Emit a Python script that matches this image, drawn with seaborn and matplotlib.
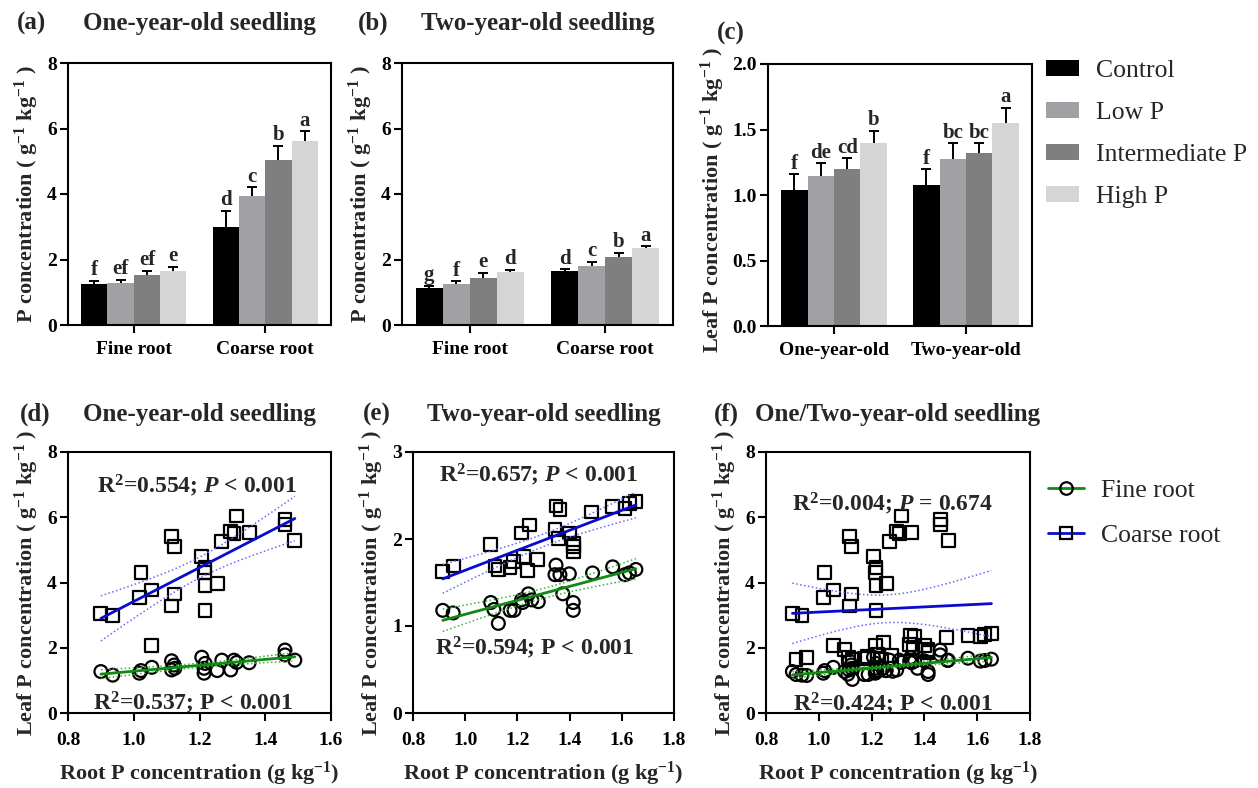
import numpy as np
import pandas as pd
import matplotlib
matplotlib.use("Agg")
import matplotlib.pyplot as plt
import seaborn as sns
from matplotlib.lines import Line2D
from matplotlib.patches import Patch
from matplotlib.ticker import FormatStrFormatter

# ---------------- data ----------------
treatments = ["Control", "Low P", "Intermediate P", "High P"]
bar_colors = ["#000000", "#a0a0a5", "#7f7f7f", "#d5d5d5"]

root_cats = ["Fine root", "Coarse root"]
age_cats = ["One-year-old", "Two-year-old"]

# (a) one-year-old seedling root P
a_fine_mean = [1.24, 1.29, 1.52, 1.65]
a_fine_top = [1.35, 1.38, 1.65, 1.78]
a_coarse_mean = [2.98, 3.95, 5.05, 5.63]
a_coarse_top = [3.49, 4.20, 5.48, 5.91]
a_fine_letters = ["f", "ef", "ef", "e"]
a_coarse_letters = ["d", "c", "b", "a"]

# (b) two-year-old seedling root P
b_fine_mean = [1.12, 1.24, 1.43, 1.61]
b_fine_top = [1.20, 1.33, 1.60, 1.68]
b_coarse_mean = [1.65, 1.80, 2.09, 2.34]
b_coarse_top = [1.70, 1.92, 2.21, 2.40]
b_fine_letters = ["g", "f", "e", "d"]
b_coarse_letters = ["d", "c", "b", "a"]

# (c) leaf P
c_one_mean = [1.037, 1.144, 1.202, 1.394]
c_one_top = [1.157, 1.241, 1.279, 1.488]
c_two_mean = [1.078, 1.276, 1.320, 1.552]
c_two_top = [1.195, 1.394, 1.394, 1.666]
c_one_letters = ["f", "de", "cd", "b"]
c_two_letters = ["f", "bc", "bc", "a"]

# (d) one-year-old scatter
d_fine_x = [0.90, 0.936, 1.017, 1.022, 1.055, 1.115, 1.123, 1.125, 1.115, 1.207, 1.217,
            1.214, 1.214, 1.254, 1.268, 1.295, 1.305, 1.313, 1.351, 1.460, 1.460, 1.490]
d_fine_y = [1.27, 1.16, 1.22, 1.30, 1.40, 1.60, 1.47, 1.37, 1.32, 1.71, 1.52,
            1.37, 1.22, 1.30, 1.62, 1.32, 1.62, 1.55, 1.54, 1.93, 1.78, 1.62]
d_coarse_x = [0.90, 0.936, 1.017, 1.022, 1.055, 1.055, 1.115, 1.115, 1.125, 1.125, 1.207, 1.214,
              1.217, 1.217, 1.217, 1.255, 1.268, 1.295, 1.305, 1.313, 1.351, 1.460, 1.460, 1.490]
d_coarse_y = [3.06, 3.00, 3.55, 4.30, 3.77, 2.08, 5.40, 3.28, 5.10, 3.65, 4.79, 4.30,
              4.45, 3.90, 3.13, 3.97, 5.25, 5.56, 5.51, 6.04, 5.53, 5.92, 5.79, 5.28]

# (e) two-year-old scatter
e_fine_x = [0.914, 0.954, 1.098, 1.110, 1.127, 1.172, 1.187, 1.216, 1.220, 1.242, 1.255, 1.280,
            1.344, 1.348, 1.363, 1.374, 1.399, 1.414, 1.414, 1.488, 1.565, 1.612, 1.629, 1.654]
e_fine_y = [1.18, 1.15, 1.27, 1.19, 1.03, 1.18, 1.18, 1.30, 1.27, 1.37, 1.30, 1.28,
            1.59, 1.70, 1.59, 1.37, 1.60, 1.27, 1.18, 1.61, 1.68, 1.59, 1.61, 1.65]
e_coarse_x = [0.914, 0.954, 1.098, 1.114, 1.129, 1.172, 1.184, 1.223, 1.238, 1.276, 1.216, 1.246,
              1.344, 1.348, 1.363, 1.357, 1.399, 1.414, 1.414, 1.414, 1.485, 1.565, 1.612, 1.629, 1.654]
e_coarse_y = [1.63, 1.69, 1.94, 1.69, 1.65, 1.67, 1.74, 1.80, 1.64, 1.76, 2.07, 2.16,
              2.11, 2.38, 2.34, 2.01, 2.07, 1.95, 1.91, 1.85, 2.31, 2.37, 2.35, 2.41, 2.43]

# ---------------- style ----------------
sns.set_style("ticks")
plt.rcParams["font.family"] = ["Liberation Serif", "DejaVu Serif"]
plt.rcParams["font.weight"] = "bold"
plt.rcParams["axes.labelweight"] = "bold"
plt.rcParams["axes.titleweight"] = "bold"
plt.rcParams["mathtext.fontset"] = "custom"
plt.rcParams["mathtext.rm"] = "Liberation Serif:bold"
plt.rcParams["mathtext.bf"] = "Liberation Serif:bold"
plt.rcParams["mathtext.it"] = "Liberation Serif:bold:italic"
plt.rcParams["axes.linewidth"] = 1.5
plt.rcParams["axes.edgecolor"] = "black"

W, H = 1258, 788
fig = plt.figure(figsize=(W / 100, H / 100), dpi=100)


def add_ax(x0, x1, y0, y1):
    return fig.add_axes([x0 / W, 1 - y1 / H, (x1 - x0) / W, (y1 - y0) / H])


TICK_FS = 14
LABEL_FS = 16
TITLE_FS = 18


def style_ax(ax, xpad):
    for s in ax.spines.values():
        s.set_visible(True)
        s.set_linewidth(1.5)
        s.set_color("black")
    ax.tick_params(axis="both", direction="out", length=5.5, width=1.5, colors="black",
                   labelsize=TICK_FS, top=False, right=False)
    ax.tick_params(axis="y", pad=2.5)
    ax.tick_params(axis="x", pad=xpad)
    for lab in ax.get_xticklabels() + ax.get_yticklabels():
        lab.set_fontweight("bold")


def bar_panel(ax, cats, means, tops, letters, ylim, yticks, yfmt, ylabel):
    rows = []
    for ci, cat in enumerate(cats):
        for ti, t in enumerate(treatments):
            rows.append({"cat": cat, "treat": t, "val": means[ci][ti]})
    df = pd.DataFrame(rows)
    sns.barplot(data=df, x="cat", y="val", hue="treat", order=cats, hue_order=treatments,
                palette=bar_colors, saturation=1, errorbar=None, width=0.8, ax=ax,
                legend=False, edgecolor="none", linewidth=0)
    bar_conts = list(ax.containers)
    for ti, cont in enumerate(bar_conts):
        xs, ys, errs = [], [], []
        for ci, bar in enumerate(cont.patches):
            xs.append(bar.get_x() + bar.get_width() / 2)
            ys.append(means[ci][ti])
            errs.append(tops[ci][ti] - means[ci][ti])
        eb = ax.errorbar(xs, ys, yerr=[np.zeros(len(errs)), errs], fmt="none", ecolor="black",
                         elinewidth=1.4, capsize=3.8, capthick=1.4, zorder=3)
        caps = eb[1]
        if len(caps) >= 2:
            caps[0].set_visible(False)
        for ci in range(len(xs)):
            ax.annotate(letters[ci][ti], (xs[ci], tops[ci][ti]), xytext=(0, 0.5),
                        textcoords="offset points", ha="center", va="bottom",
                        fontsize=15, fontweight="bold")
    ax.set_xlim(-0.5, 1.5)
    ax.set_ylim(*ylim)
    ax.set_yticks(yticks)
    ax.yaxis.set_major_formatter(FormatStrFormatter(yfmt))
    ax.set_xlabel("")
    ax.set_ylabel(ylabel, fontsize=LABEL_FS, fontweight="bold", labelpad=4)
    style_ax(ax, 6)


def t975(df):
    z = 1.959964
    return z + (z ** 3 + z) / (4 * df) + (5 * z ** 5 + 16 * z ** 3 + 3 * z) / (96 * df ** 2)


def reg(ax, x, y, color, bandcolor):
    x = np.asarray(x, float)
    y = np.asarray(y, float)
    b, a = np.polyfit(x, y, 1)
    xx = np.linspace(x.min(), x.max(), 100)
    yy = a + b * xx
    n = len(x)
    s = np.sqrt(np.sum((y - (a + b * x)) ** 2) / (n - 2))
    se = s * np.sqrt(1 / n + (xx - x.mean()) ** 2 / np.sum((x - x.mean()) ** 2))
    t = t975(n - 2)
    ax.plot(xx, yy, color=color, lw=2, zorder=4)
    ax.plot(xx, yy + t * se, color=bandcolor, lw=1.1, ls=(0, (1, 1.6)), zorder=4)
    ax.plot(xx, yy - t * se, color=bandcolor, lw=1.1, ls=(0, (1, 1.6)), zorder=4)


FINE_C, FINE_B = "#108a10", "#3cb43c"
COARSE_C, COARSE_B = "#0a0ad0", "#6a6af5"


def scatter_panel(ax, fx, fy, cx, cy, xlim, ylim, yticks, texts):
    sns.scatterplot(x=cx, y=cy, marker="s", s=85, facecolors="none", edgecolor="black",
                    linewidth=1.6, ax=ax, zorder=3)
    sns.scatterplot(x=fx, y=fy, marker="o", s=85, facecolors="none", edgecolor="black",
                    linewidth=1.6, ax=ax, zorder=3)
    reg(ax, cx, cy, COARSE_C, COARSE_B)
    reg(ax, fx, fy, FINE_C, FINE_B)
    ax.set_xlim(*xlim)
    ax.set_ylim(*ylim)
    ax.set_xticks(np.arange(xlim[0], xlim[1] + 0.001, 0.2))
    ax.set_yticks(yticks)
    ax.xaxis.set_major_formatter(FormatStrFormatter("%.1f"))
    ax.set_xlabel("Root P concentration (g kg$^{-1}$)", fontsize=LABEL_FS, fontweight="bold",
                  labelpad=8)
    ax.set_ylabel("Leaf P concentration ( g$^{-1}$ kg$^{-1}$ )", fontsize=LABEL_FS,
                  fontweight="bold", labelpad=4)
    for (tx, ty, s) in texts:
        ax.text(tx, ty, s, transform=ax.transData,
                ha="center", va="center", fontsize=17, fontweight="bold")
    style_ax(ax, 8)


ylab_root = "P concentration ( g$^{-1}$ kg$^{-1}$ )"
ylab_leaf = "Leaf P concentration ( g$^{-1}$ kg$^{-1}$ )"

# (a)
ax_a = add_ax(68, 331, 63, 325)
bar_panel(ax_a, root_cats, [a_fine_mean, a_coarse_mean], [a_fine_top, a_coarse_top],
          [a_fine_letters, a_coarse_letters], (0, 8), [0, 2, 4, 6, 8], "%d", ylab_root)
ax_a.set_title("One-year-old seedling", fontsize=TITLE_FS, fontweight="bold", pad=24)

# (b)
ax_b = add_ax(402, 673, 63, 325)
bar_panel(ax_b, root_cats, [b_fine_mean, b_coarse_mean], [b_fine_top, b_coarse_top],
          [b_fine_letters, b_coarse_letters], (0, 8), [0, 2, 4, 6, 8], "%d", ylab_root)
ax_b.set_title("Two-year-old seedling", fontsize=TITLE_FS, fontweight="bold", pad=24)

# (c)
ax_c = add_ax(768, 1032, 64, 326)
bar_panel(ax_c, age_cats, [c_one_mean, c_two_mean], [c_one_top, c_two_top],
          [c_one_letters, c_two_letters], (0, 2), [0, 0.5, 1.0, 1.5, 2.0], "%.1f", ylab_leaf)
ax_c.yaxis.label.set_y(0.48)

# (d)
ax_d = add_ax(68, 331, 452, 713)
scatter_panel(ax_d, d_fine_x, d_fine_y, d_coarse_x, d_coarse_y, (0.8, 1.6), (0, 8),
              [0, 2, 4, 6, 8],
              [(1.192, 6.95, r"R$^2$=0.554; $P$ < 0.001"),
               (1.18, 0.32, r"R$^2$=0.537; P < 0.001")])
ax_d.set_title("One-year-old seedling", fontsize=TITLE_FS, fontweight="bold", pad=22)

# (e)
ax_e = add_ax(413, 674, 452, 713)
scatter_panel(ax_e, e_fine_x, e_fine_y, e_coarse_x, e_coarse_y, (0.8, 1.8), (0, 3),
              [0, 1, 2, 3],
              [(1.28, 2.74, r"R$^2$=0.657; $P$ < 0.001"),
               (1.267, 0.75, r"R$^2$=0.594; P < 0.001")])
ax_e.set_title("Two-year-old seedling", fontsize=TITLE_FS, fontweight="bold", pad=22)

# (f)
ax_f = add_ax(766, 1030, 452, 713)
scatter_panel(ax_f, d_fine_x + e_fine_x, d_fine_y + e_fine_y,
              d_coarse_x + e_coarse_x, d_coarse_y + e_coarse_y, (0.8, 1.8), (0, 8),
              [0, 2, 4, 6, 8],
              [(1.28, 6.4, r"R$^2$=0.004; $P$ = 0.674"),
               (1.28, 0.28, r"R$^2$=0.424; P < 0.001")])
ax_f.set_title("One/Two-year-old seedling", fontsize=TITLE_FS, fontweight="bold", pad=22)

# panel letters
for (px, py, s) in [(17, 30, "(a)"), (358, 30, "(b)"), (717, 40, "(c)"),
                    (20, 421, "(d)"), (363, 421, "(e)"), (714, 421, "(f)")]:
    fig.text(px / W, 1 - py / H, s, fontsize=TITLE_FS, fontweight="bold", ha="left", va="baseline")

# legends
leg_font = {"family": "Liberation Serif", "weight": "normal", "size": 18.5}
bar_handles = [Patch(facecolor=c, edgecolor="none", label=t) for c, t in zip(bar_colors, treatments)]
fig.legend(handles=bar_handles, loc="upper left", bbox_to_anchor=(1046 / W, 1 - 60 / H),
           frameon=False, prop=leg_font, handlelength=1.3, handleheight=0.55,
           handletextpad=0.65, labelspacing=0.78, borderpad=0, borderaxespad=0)

line_handles = [
    Line2D([], [], color=FINE_C, lw=2, marker="o", ms=9, mfc="none", mec="black", mew=1.6,
           label="Fine root"),
    Line2D([], [], color=COARSE_C, lw=2, marker="s", ms=9, mfc="none", mec="black", mew=1.6,
           label="Coarse root"),
]
fig.legend(handles=line_handles, loc="upper left", bbox_to_anchor=(1048 / W, 1 - 479 / H),
           frameon=False, prop=leg_font, handlelength=1.4, numpoints=1,
           handletextpad=0.65, labelspacing=0.85, borderpad=0, borderaxespad=0)

fig.savefig("out.png", dpi=100)
